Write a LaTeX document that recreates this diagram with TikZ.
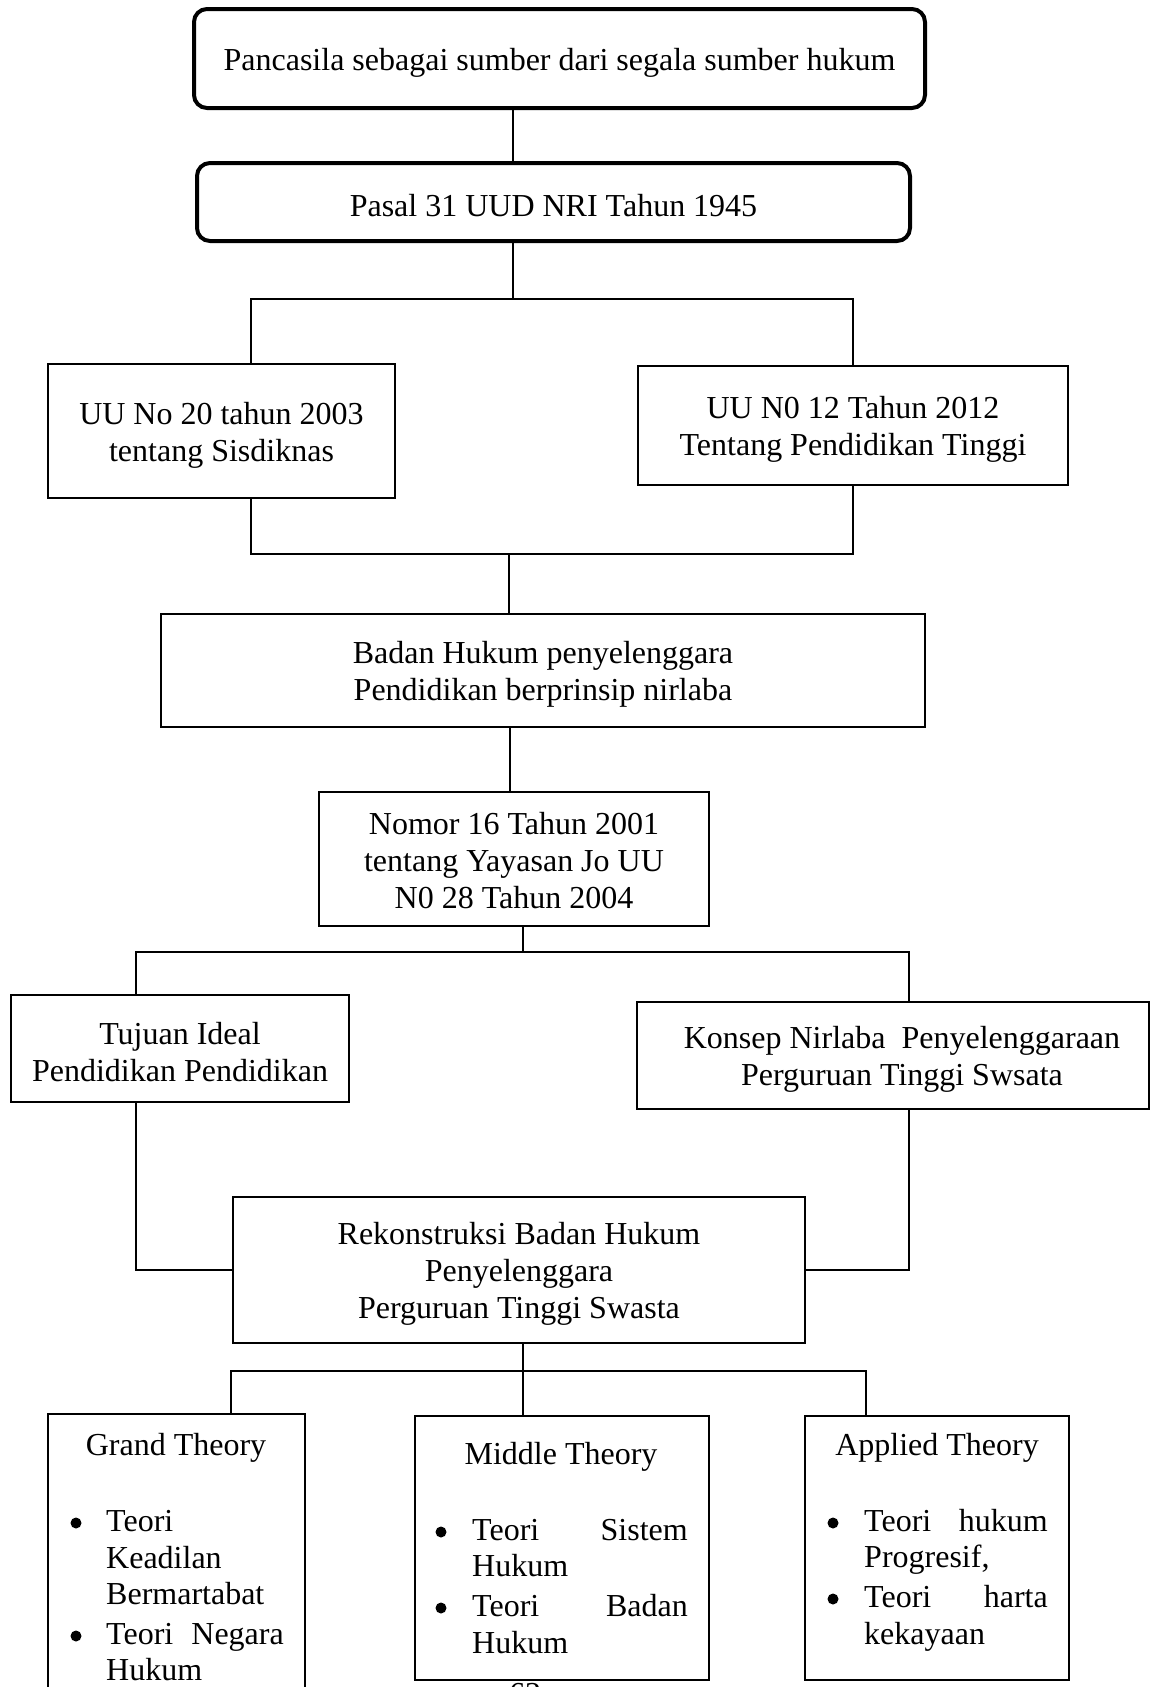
\documentclass[tikz,border=0pt]{standalone}
\usepackage{fontspec}
\setmainfont{Liberation Serif}
\begin{document}
\begin{tikzpicture}[x=1pt,y=-1pt,
  every node/.style={font=\fontsize{32}{37}\selectfont, inner sep=0pt},
  rbox/.style={draw, line width=4pt, rounded corners=13pt},
  sbox/.style={draw, line width=2.4pt},
  btxt/.style={align=center, yshift=-4pt},
  conn/.style={line width=1.6pt},
  ltxt/.style={anchor=base west},
  rtxt/.style={anchor=base east},
  htxt/.style={anchor=base},
  bul/.style={circle, fill, minimum size=11pt}
]
\useasboundingbox (0,0) rectangle (1151,1687);
\clip (0,0) rectangle (1151,1687);
\fill[white] (0,0) rectangle (1151,1687);

% boxes
\node[rbox, minimum width=731pt, minimum height=99pt] (top) at (559.5,58.5) {};
\node[btxt] (topT) at (top.center) {Pancasila sebagai sumber dari segala sumber hukum};
\node[rbox, minimum width=713pt, minimum height=78pt] (pasal) at (553.5,202) {};
\node[btxt] (pasalT) at (pasal.center) {Pasal 31 UUD NRI Tahun 1945};
\node[sbox, minimum width=347pt, minimum height=134pt] (uu20) at (221.5,431) {};
\node[btxt] (uu20T) at (uu20.center) {UU No 20 tahun 2003\\tentang Sisdiknas};
\node[sbox, minimum width=430pt, minimum height=119pt] (uu12) at (853,425.5) {};
\node[btxt] (uu12T) at (uu12.center) {UU N0 12 Tahun 2012\\Tentang Pendidikan Tinggi};
\node[sbox, minimum width=764pt, minimum height=113pt] (badan) at (543,670.5) {};
\node[btxt] (badanT) at (badan.center) {Badan Hukum penyelenggara\\Pendidikan berprinsip nirlaba};
\node[sbox, minimum width=390pt, minimum height=134pt] (nomor) at (514,859) {};
\node[btxt, yshift=2pt] (nomorT) at (nomor.center) {Nomor 16 Tahun 2001\\tentang Yayasan Jo UU\\N0 28 Tahun 2004};
\node[sbox, minimum width=338pt, minimum height=107pt] (tujuan) at (180,1048.5) {};
\node[btxt] (tujuanT) at (tujuan.center) {Tujuan Ideal\\Pendidikan Pendidikan};
\node[sbox, minimum width=512pt, minimum height=107pt] (konsep) at (893,1055.5) {};
\node[btxt] (konsepT) at (902,1055.5) {Konsep Nirlaba\ \ Penyelenggaraan\\Perguruan Tinggi Swsata};
\node[sbox, minimum width=572pt, minimum height=146pt] (rekon) at (519,1270) {};
\node[btxt] (rekonT) at (rekon.center) {Rekonstruksi Badan Hukum\\Penyelenggara\\Perguruan Tinggi Swasta};
\node[sbox, minimum width=257pt, minimum height=316pt] (grand) at (176.5,1572) {};
\node[sbox, minimum width=294pt, minimum height=264pt] (middle) at (562,1548) {};
\node[sbox, minimum width=264pt, minimum height=264pt] (applied) at (937,1548) {};

% junction coordinates
\coordinate (j1) at (513,299);
\coordinate (h1l) at (251,299);
\coordinate (h1r) at (853,299);
\coordinate (h2l) at (251,554);
\coordinate (h2r) at (853,554);
\coordinate (j2) at (509,554);
\coordinate (j3) at (510,760);
\coordinate (j4) at (523,952);
\coordinate (h3l) at (136,952);
\coordinate (h3r) at (909,952);
\coordinate (j5) at (523,1371);
\coordinate (h4l) at (231,1371);
\coordinate (h4r) at (866,1371);

% connectors
\draw[conn] (top.south -| j1) -- (pasal.north -| j1);
\draw[conn] (pasal.south -| j1) -- (j1);
\draw[conn] (uu20.north -| h1l) |- (h1r) -- (uu12.north -| h1r);
\draw[conn] (uu20.south -| h2l) |- (h2r) -- (uu12.south -| h2r);
\draw[conn] (j2) -- (badan.north -| j2);
\draw[conn] (badan.south -| j3) -- (nomor.north -| j3);
\draw[conn] (nomor.south -| j4) -- (j4);
\draw[conn] (tujuan.north -| h3l) |- (h3r) -- (konsep.north -| h3r);
\draw[conn] (tujuan.south -| h3l) |- (rekon.west);
\draw[conn] (konsep.south -| h3r) |- (rekon.east);
\draw[conn] (rekon.south -| j5) -- (j5);
\draw[conn] (grand.north -| h4l) |- (h4r) -- (applied.north -| h4r);
\draw[conn] (j5) -- (middle.north -| j5);

% Grand Theory
\node[htxt] (gt) at (176,1455) {Grand Theory};
\node[bul] (gb1) at (76,1523) {};
\node[ltxt] (g1) at (106,1531) {Teori};
\node[ltxt] (g2) at (106,1568) {Keadilan};
\node[ltxt] (g3) at (106,1604) {Bermartabat};
\node[bul] (gb2) at (76,1636) {};
\node[ltxt] (g4a) at (106,1644) {Teori};
\node[rtxt] (g4b) at (284,1644) {Negara};
\node[ltxt] (g5) at (106,1680) {Hukum};

% Middle Theory
\node[htxt] (mt) at (561,1464) {Middle Theory};
\node[bul] (mb1) at (441,1532) {};
\node[ltxt] (m1a) at (472,1540) {Teori};
\node[rtxt] (m1b) at (688,1540) {Sistem};
\node[ltxt] (m2) at (472,1576) {Hukum};
\node[bul] (mb2) at (441,1608) {};
\node[ltxt] (m3a) at (472,1616) {Teori};
\node[rtxt] (m3b) at (688,1616) {Badan};
\node[ltxt] (m4) at (472,1653) {Hukum};

% Applied Theory
\node[htxt] (at) at (937,1455) {Applied Theory};
\node[bul] (ab1) at (833,1523) {};
\node[ltxt] (a1a) at (864,1531) {Teori};
\node[rtxt] (a1b) at (1048,1531) {hukum};
\node[ltxt] (a2) at (864,1567) {Progresif,};
\node[bul] (ab2) at (833,1599) {};
\node[ltxt] (a3a) at (864,1607) {Teori};
\node[rtxt] (a3b) at (1048,1607) {harta};
\node[ltxt] (a4) at (864,1644) {kekayaan};

% page number (cut off at the page edge, as in the reference)
\node[htxt] (pg) at (525,1704) {62};
\end{tikzpicture}
\end{document}
